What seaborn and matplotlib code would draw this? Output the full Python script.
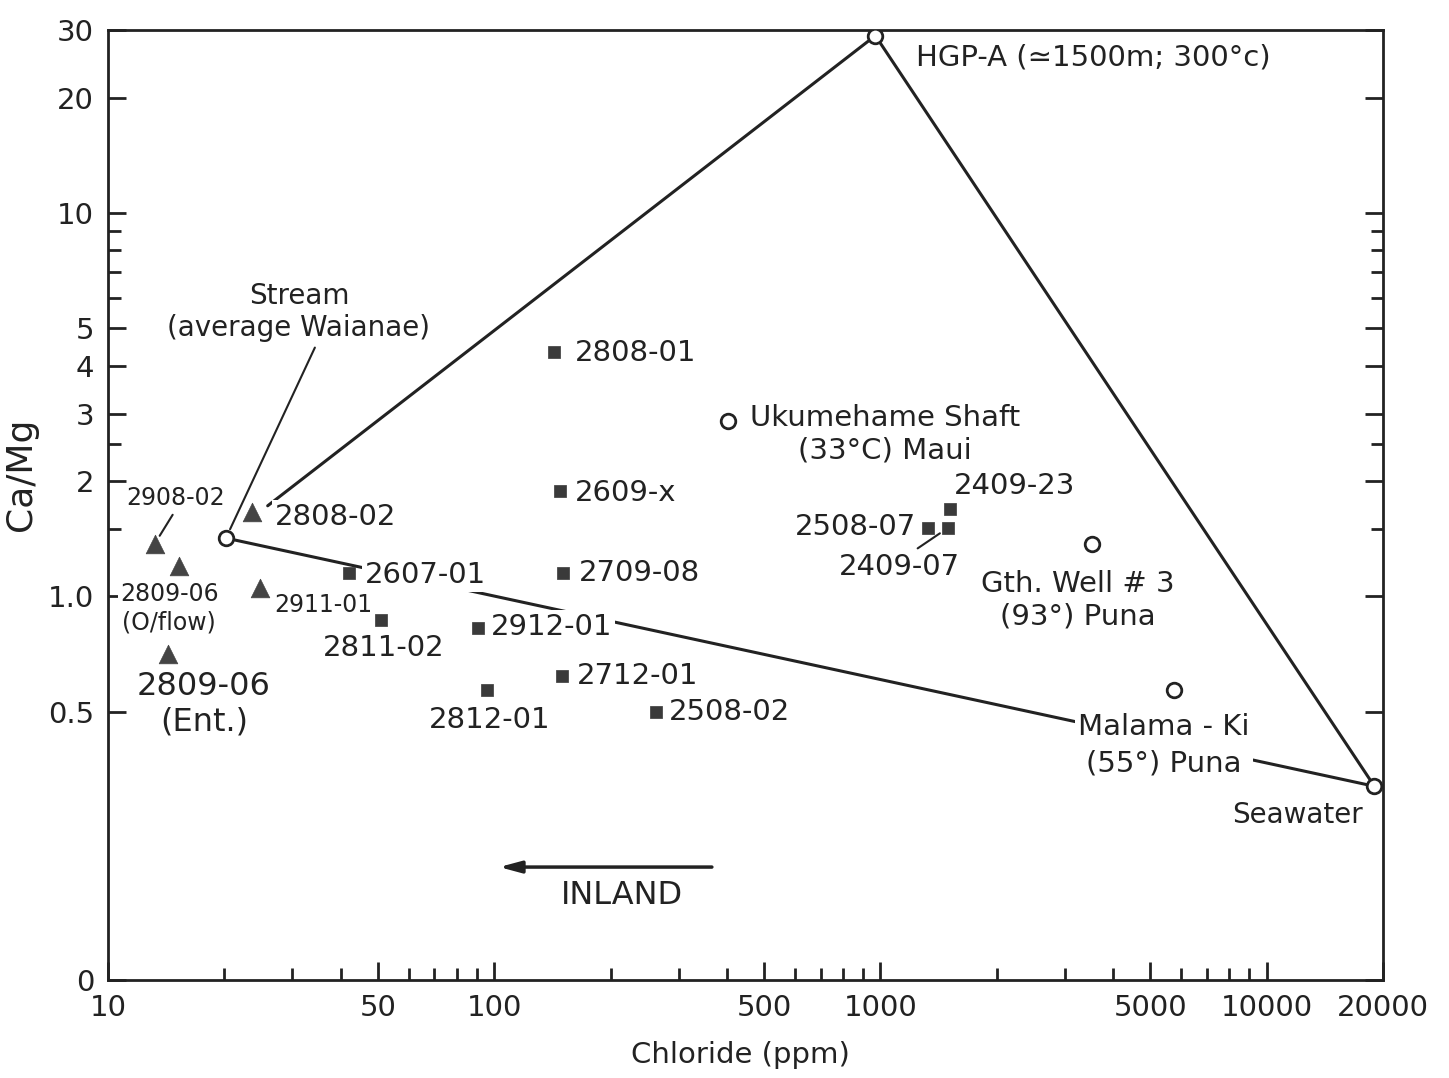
import numpy as np
import pandas as pd
import matplotlib.pyplot as plt
import matplotlib.ticker as mticker
import seaborn as sns

# ---- data (Chloride ppm, Ca/Mg ratio) ----
# wells (filled squares)
well_names = ["2808-01", "2609-x", "2607-01", "2709-08", "2811-02", "2912-01",
              "2712-01", "2812-01", "2508-02", "2508-07", "2409-23", "2409-07"]
well_cl = [143, 148, 42, 151, 51, 91, 150, 96, 262, 1330, 1510, 1495]
well_ratio = [4.35, 1.88, 1.15, 1.15, 0.87, 0.83, 0.62, 0.57, 0.50, 1.51, 1.69, 1.51]

# springs / tunnels (filled triangles)
spring_names = ["2908-02", "2809-06\n(O/flow)", "2808-02", "2911-01", "2809-06\n(Ent.)"]
spring_cl = [13.2, 15.3, 23.6, 24.7, 14.3]
spring_ratio = [1.37, 1.20, 1.66, 1.05, 0.71]

# reference waters (open circles); first three are the mixing end members
ref_names = ["HGP-A (\u22431500m; 300\u00b0c)", "Stream\n(average Waianae)", "Seawater",
             "Ukumehame Shaft\n(33\u00b0C) Maui", "Gth. Well # 3\n(93\u00b0) Puna",
             "Malama - Ki\n(55\u00b0) Puna"]
ref_cl = [970, 20.2, 19000, 403, 3530, 5750]
ref_ratio = [29, 1.42, 0.32, 2.86, 1.37, 0.57]

x_ticks = [10, 50, 100, 500, 1000, 5000, 10000, 20000]
x_ticklabels = ["10", "50", "100", "500", "1000", "5000", "10000", "20000"]
y_ticks = [0.1, 0.5, 1, 2, 3, 4, 5, 10, 20, 30]
y_ticklabels = ["0", "0.5", "1.0", "2", "3", "4", "5", "10", "20", "30"]
y_minor = [1.5, 2.5, 6, 7, 8, 9]

wells = pd.DataFrame({"name": well_names, "cl": well_cl, "ratio": well_ratio})
springs = pd.DataFrame({"name": spring_names, "cl": spring_cl, "ratio": spring_ratio})
refs = pd.DataFrame({"name": ref_names, "cl": ref_cl, "ratio": ref_ratio})

# label placement: offset in pixels from the marker, alignment, font size
label_pos = {
    "2808-01": (21, -1, "left", 21),
    "2609-x": (15, -2, "left", 21),
    "2607-01": (16, -2, "left", 21),
    "2709-08": (16, 0, "left", 21),
    "2811-02": (2, -28, "center", 21),
    "2912-01": (12, 1, "left", 21),
    "2712-01": (15, 0, "left", 21),
    "2812-01": (2, -30, "center", 21),
    "2508-02": (13, 0, "left", 21),
    "2508-07": (-12, 1, "right", 21),
    "2409-23": (4, 23, "left", 21),
    "2409-07": (-49, -39, "center", 21),
    "2908-02": (21, 46, "center", 17),
    "2809-06\n(O/flow)": (-10, -42, "center", 17),
    "2808-02": (23, -5, "left", 21),
    "2911-01": (15, -17, "left", 17),
    "2809-06\n(Ent.)": (36, -51, "center", 23),
    ref_names[0]: (41, -22, "left", 21),
    ref_names[1]: (73, 226, "center", 20),
    ref_names[2]: (-77, -29, "center", 20),
    ref_names[3]: (22, -13, "left", 21),
    ref_names[4]: (-14, -56, "center", 21),
    ref_names[5]: (-10, -55, "center", 21),
}
leaders = {"2908-02": (0.5, 0.0), ref_names[1]: (0.57, 0.0), "2409-07": (0.6, 1.0)}

ink = "#222222"
sns.set_style("ticks")
plt.rcParams["font.family"] = ["DejaVu Sans"]

fig = plt.figure(figsize=(14.49, 10.78), dpi=100)
ax = fig.add_axes([108 / 1449, 1 - 980 / 1078, 1275 / 1449, 950 / 1078])
ax.set_xscale("log")
ax.set_yscale("log")

# mixing lines
hgp, stream, sea = refs.iloc[0], refs.iloc[1], refs.iloc[2]
ax.plot([stream.cl, sea.cl], [stream.ratio, sea.ratio], color=ink, lw=2.2, zorder=1)
ax.plot([hgp.cl, sea.cl], [hgp.ratio, sea.ratio], color=ink, lw=2.2, zorder=1)
ax.annotate("", xy=(stream.cl, stream.ratio), xytext=(hgp.cl, hgp.ratio),
            arrowprops=dict(arrowstyle="-", color=ink, lw=2.2, shrinkA=5, shrinkB=38),
            zorder=1)

sns.scatterplot(data=wells, x="cl", y="ratio", marker="s", s=75, color="#3a3a3a",
                edgecolor="#3a3a3a", linewidth=0.5, ax=ax, zorder=3)
sns.scatterplot(data=springs, x="cl", y="ratio", marker="^", s=180, color="#444444",
                edgecolor="#444444", linewidth=0.5, ax=ax, zorder=3)
sns.scatterplot(data=refs, x="cl", y="ratio", marker="o", s=110, color="white",
                edgecolor=ink, linewidth=2, ax=ax, zorder=3)

for df in (wells, springs, refs):
    for _, r in df.iterrows():
        dx, dy, ha, fs = label_pos[r["name"]]
        ls = 1.4 if r["name"].startswith("Malama") else 1.2
        arrow = None
        if r["name"] in leaders:
            arrow = dict(arrowstyle="-", color=ink, lw=1.5, shrinkA=2, shrinkB=7,
                         relpos=leaders[r["name"]])
        ax.annotate(r["name"], xy=(r["cl"], r["ratio"]), xytext=(dx, dy),
                    textcoords="offset pixels", ha=ha, va="center", fontsize=fs,
                    color=ink, multialignment="center", linespacing=ls,
                    bbox=dict(boxstyle="square,pad=0.1", fc="white", ec="none"),
                    arrowprops=arrow, zorder=2)

# INLAND arrow
ax.annotate("", xy=(103, 0.197), xytext=(366, 0.197),
            arrowprops=dict(arrowstyle="-|>,head_length=1.3,head_width=0.35",
                            color=ink, lw=2.5, shrinkA=0, shrinkB=0))
ax.text(214, 0.166, "INLAND", ha="center", va="center", fontsize=23, color=ink)

ax.set_xlim(10, 20000)
ax.set_ylim(0.1, 30)

x_minor = [m * d for d in (10, 100, 1000) for m in range(2, 10) if m != 5]
ax.set_xticks(x_ticks)
ax.set_xticklabels(x_ticklabels)
ax.set_xticks(x_minor, minor=True)
ax.set_yticks(y_ticks)
ax.set_yticklabels(y_ticklabels)
ax.set_yticks(y_minor, minor=True)
ax.xaxis.set_minor_formatter(mticker.NullFormatter())
ax.yaxis.set_minor_formatter(mticker.NullFormatter())

ax.tick_params(which="both", direction="in", top=False, right=True,
               labelright=False, color=ink, width=2, labelsize=21, labelcolor=ink)
ax.tick_params(which="major", length=13, pad=10)
ax.tick_params(which="minor", length=9)
for sp in ax.spines.values():
    sp.set_linewidth(2)
    sp.set_color(ink)

ax.set_xlabel("Chloride (ppm)", fontsize=21, color=ink)
ax.set_ylabel("Ca/Mg", fontsize=26, color=ink)
ax.xaxis.set_label_coords(0.496, -0.064)
ax.yaxis.set_label_coords(-0.055, 0.532)

fig.savefig("out.png", dpi=100, facecolor="white")
